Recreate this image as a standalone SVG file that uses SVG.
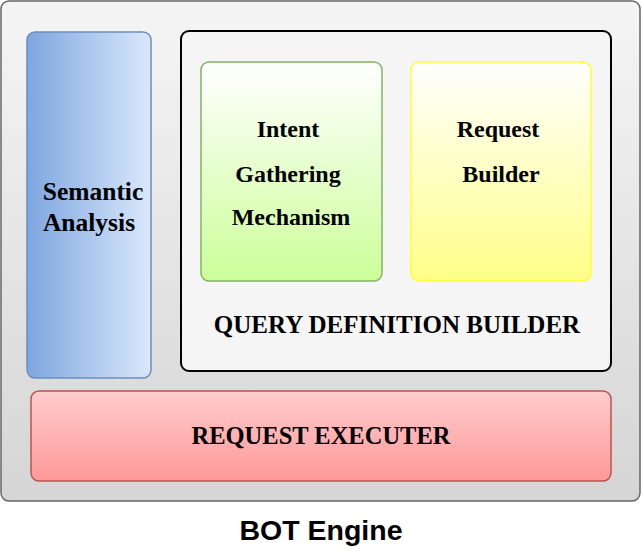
<svg xmlns="http://www.w3.org/2000/svg" width="642" height="552" viewBox="0 0 642 552">
<defs>
<linearGradient id="gOuter" x1="0" y1="0" x2="0" y2="1"><stop offset="0" stop-color="#f5f5f5"/><stop offset="1" stop-color="#d5d5d5"/></linearGradient>
<linearGradient id="gBlue" x1="0" y1="0" x2="1" y2="0"><stop offset="0" stop-color="#7ea6e0"/><stop offset="1" stop-color="#dae8fc"/></linearGradient>
<linearGradient id="gGreen" x1="0" y1="0" x2="0" y2="1"><stop offset="0" stop-color="#ffffff"/><stop offset="1" stop-color="#ccff99"/></linearGradient>
<linearGradient id="gYellow" x1="0" y1="0" x2="0" y2="1"><stop offset="0" stop-color="#ffffff"/><stop offset="1" stop-color="#ffff88"/></linearGradient>
<linearGradient id="gRed" x1="0" y1="0" x2="0" y2="1"><stop offset="0" stop-color="#ffcccc"/><stop offset="1" stop-color="#ff9999"/></linearGradient>
</defs>
<style>
.t{font-family:"Liberation Serif","Times New Roman",serif;font-weight:bold;fill:#000;text-anchor:middle}
.s{font-family:"Liberation Sans",Arial,sans-serif;font-weight:bold;fill:#000;text-anchor:middle}
</style>
<g id="bot-engine">
<rect x="1" y="1" width="639" height="500" rx="8" fill="url(#gOuter)" stroke="#666666" stroke-width="1.5"/>
<text class="s" x="321" y="540" font-size="28.5">BOT Engine</text>
</g>
<g id="semantic-analysis">
<rect x="27" y="32" width="124" height="346" rx="8" fill="url(#gBlue)" stroke="#6c8ebf" stroke-width="1.5"/>
<text class="t" x="93" y="200" font-size="25.5">Semantic</text>
<text class="t" x="89" y="231" font-size="25.5">Analysis</text>
</g>
<g id="query-definition-builder">
<rect x="181" y="31" width="430" height="340" rx="8" fill="#f5f5f5" stroke="#000000" stroke-width="2"/>
<text class="t" x="397" y="333" font-size="25">QUERY DEFINITION BUILDER</text>
</g>
<g id="intent-gathering">
<rect x="201" y="62" width="181" height="219" rx="8" fill="url(#gGreen)" stroke="#82b366" stroke-width="1.5"/>
<text class="t" x="288" y="137" font-size="24">Intent</text>
<text class="t" x="288" y="182" font-size="24">Gathering</text>
<text class="t" x="291" y="225" font-size="24">Mechanism</text>
</g>
<g id="request-builder">
<rect x="411" y="62" width="180" height="219" rx="8" fill="url(#gYellow)" stroke="#ffff33" stroke-width="1.5"/>
<text class="t" x="498" y="137" font-size="24">Request</text>
<text class="t" x="501" y="182" font-size="24">Builder</text>
</g>
<g id="request-executer">
<rect x="31" y="391" width="580" height="90" rx="8" fill="url(#gRed)" stroke="#b85450" stroke-width="1.5"/>
<text class="t" x="321" y="444" font-size="24.5">REQUEST EXECUTER</text>
</g>
<g id="connectors"></g>
</svg>
